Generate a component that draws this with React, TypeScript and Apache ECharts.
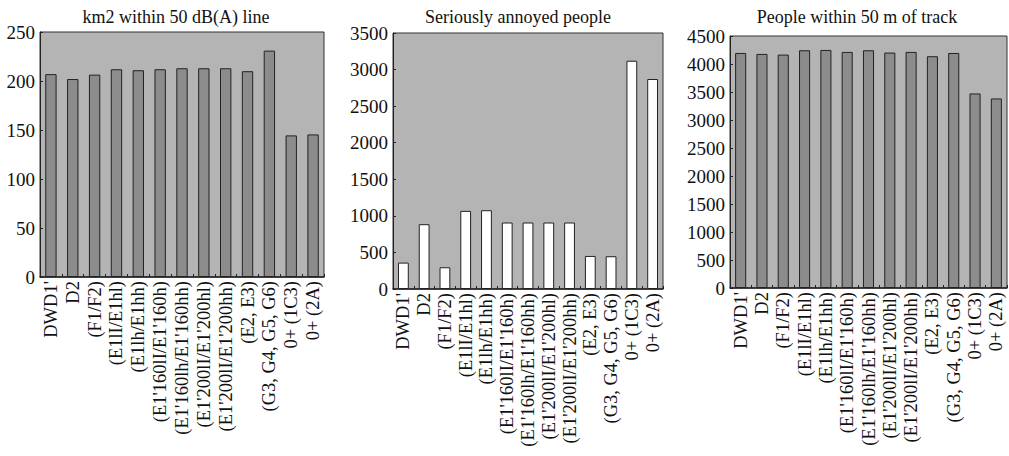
import React, { useEffect, useRef } from "react";
import * as echarts from "echarts";

const categories = [
  "DWD1'",
  "D2",
  "(F1/F2)",
  "(E1lI/E1hl)",
  "(E1lh/E1hh)",
  "(E1'160lI/E1'160h)",
  "(E1'160lh/E1'160hh)",
  "(E1'200lI/E1'200hl)",
  "(E1'200lI/E1'200hh)",
  "(E2, E3)",
  "(G3, G4, G5, G6)",
  "0+ (1C3)",
  "0+ (2A)",
];

const areaKm2 = [207, 202, 206.5, 212, 211, 212, 213, 213, 213, 210, 231, 144.5, 145.5];
const annoyed = [361, 886, 297, 1068, 1077, 909, 909, 909, 909, 452, 448, 3121, 2871];
const peopleNear = [4197, 4180, 4168, 4245, 4251, 4216, 4245, 4204, 4216, 4139, 4197, 3474, 3385];

const titles = ["km2 within 50 dB(A) line", "Seriously annoyed people", "People within 50 m of track"];
const yMax = [250, 3500, 4500];
const yStep = [50, 500, 500];

const FONT = "'Liberation Serif', 'DejaVu Serif', serif";

export default function App() {
  const ref = useRef<HTMLDivElement>(null);
  useEffect(() => {
    if (!ref.current) return;
    const chart = echarts.init(ref.current, undefined, { renderer: "svg" });
    const grids = [
      { left: 40, top: 32, width: 284, height: 245 },
      { left: 393, top: 33, width: 270, height: 256 },
      { left: 730, top: 36, width: 277, height: 252 },
    ];
    const titleX = [171, 513, 852];
    const seriesData = [areaKm2, annoyed, peopleNear];
    const barColors = ["#8c8c8c", "#ffffff", "#8c8c8c"];
    chart.setOption({
      animation: false,
      backgroundColor: "#ffffff",
      title: titles.map((t, i) => ({
        text: t,
        left: titleX[i],
        top: 3,
        textAlign: "center",
        textStyle: { fontFamily: FONT, fontSize: 18, fontWeight: "normal", color: "#111" },
      })),
      grid: grids.map((g) => ({
        ...g,
        show: true,
        containLabel: false,
        outerBoundsMode: "none",
        backgroundColor: "#b4b4b4",
        borderColor: "#333",
        borderWidth: 1,
      })),
      xAxis: grids.map((_, i) => ({
        type: "category",
        gridIndex: i,
        data: categories,
        axisLine: { show: true, lineStyle: { color: "#222", width: 1.5 } },
        axisTick: { show: true, inside: true, length: 3, lineStyle: { color: "#222" } },
        axisLabel: {
          rotate: 90,
          interval: 0,
          margin: 4,
          fontFamily: FONT,
          fontSize: 18.5,
          color: "#111",
        },
      })),
      yAxis: grids.map((_, i) => ({
        type: "value",
        gridIndex: i,
        min: 0,
        max: yMax[i],
        interval: yStep[i],
        splitLine: { show: false },
        axisLine: { show: true, lineStyle: { color: "#222" } },
        axisTick: { show: true, inside: true, length: 3, lineStyle: { color: "#222" } },
        axisLabel: {
          fontFamily: FONT,
          fontSize: 19,
          color: "#111",
          margin: 5,
          formatter: (v: number) => String(v),
        },
      })),
      series: seriesData.map((d, i) => ({
        type: "bar",
        xAxisIndex: i,
        yAxisIndex: i,
        data: d,
        barWidth: "52%",
        itemStyle: { color: barColors[i], borderColor: "#222", borderWidth: 1 },
      })),
    });
    return () => chart.dispose();
  }, []);
  return (
    <div
      ref={ref}
      style={{ position: "fixed", left: 0, top: 0, width: 1009, height: 456 }}
    />
  );
}
